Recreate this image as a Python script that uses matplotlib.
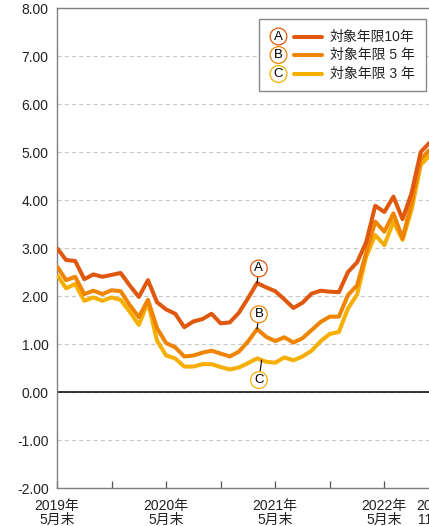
import matplotlib
matplotlib.use('Agg')
import matplotlib.pyplot as plt
from matplotlib.lines import Line2D
from matplotlib.patches import Rectangle

plt.rcParams['font.family'] = ['Liberation Sans', 'Noto Sans CJK JP']
plt.rcParams['lines.scale_dashes'] = False

# ---- data (monthly, index 0 = 2019年5月末) ----
months = list(range(42))
series_A = [3.00, 2.75, 2.73, 2.35, 2.45, 2.40, 2.44, 2.48, 2.22, 1.98,
            2.33, 1.87, 1.72, 1.63, 1.35, 1.47, 1.52, 1.63, 1.43, 1.45,
            1.65, 1.95, 2.27, 2.18, 2.10, 1.93, 1.75, 1.86, 2.05, 2.11,
            2.09, 2.08, 2.50, 2.70, 3.12, 3.88, 3.75, 4.07, 3.60, 4.15,
            5.00, 5.20]
series_B = [2.62, 2.33, 2.40, 2.04, 2.11, 2.04, 2.12, 2.10, 1.81, 1.56,
            1.92, 1.33, 1.02, 0.93, 0.74, 0.76, 0.82, 0.86, 0.80, 0.74,
            0.84, 1.05, 1.31, 1.15, 1.06, 1.14, 1.03, 1.12, 1.29, 1.46,
            1.57, 1.57, 2.02, 2.22, 2.90, 3.55, 3.34, 3.72, 3.20, 3.95,
            4.85, 5.05]
series_C = [2.44, 2.16, 2.25, 1.90, 1.97, 1.90, 1.97, 1.92, 1.67, 1.40,
            1.87, 1.07, 0.76, 0.70, 0.53, 0.53, 0.58, 0.58, 0.52, 0.47,
            0.51, 0.60, 0.70, 0.63, 0.61, 0.72, 0.66, 0.74, 0.86, 1.06,
            1.21, 1.25, 1.74, 2.03, 2.82, 3.27, 3.06, 3.55, 3.17, 3.80,
            4.73, 4.93]
labels = ['対象年限10年', '対象年限 5 年', '対象年限 3 年']
letters = ['A', 'B', 'C']
xtick_pos = [0, 6, 12, 18, 24, 30, 36, 42]
xtick_labels = ['2019年\n5月末', '', '2020年\n5月末', '', '2021年\n5月末', '',
                '2022年\n5月末', '2022年\n11月末']
yticks = [-2, -1, 0, 1, 2, 3, 4, 5, 6, 7, 8]

colors = ['#E0580E', '#EE8400', '#F6AE00']

W, H = 429, 526
fig = plt.figure(figsize=(W / 100, H / 100), dpi=100)
ax = fig.add_axes([57 / W, 38 / H, 391 / W, 480 / H])

ax.set_xlim(0, 43)
ax.set_ylim(-2, 8)

ax.set_yticks(yticks)
ax.set_yticklabels([f'{v:.2f}' for v in yticks])
ax.grid(axis='y', color='#c8c8c8', lw=0.8, ls=(0, (3.0, 2.2)))
ax.axhline(0, color='black', lw=1.1, zorder=2)

ax.set_xticks(xtick_pos)
ax.set_xticklabels(xtick_labels)
for lbl in ax.get_xticklabels():
    lbl.set_linespacing(1.0)
ax.tick_params(axis='x', direction='in', length=5, width=0.9, color='#555555',
               pad=8, labelsize=10, labelcolor='#222222')
ax.tick_params(axis='y', length=0, pad=6, labelsize=10, labelcolor='#222222')

for side in ['left', 'top', 'bottom']:
    ax.spines[side].set_color('#808080')
    ax.spines[side].set_linewidth(1.0)
ax.spines['right'].set_visible(False)

all_series = [series_A, series_B, series_C]
for i in [2, 1, 0]:
    ax.plot(months, all_series[i], color=colors[i], lw=2.9, zorder=3 + (2 - i),
            solid_joinstyle='round', solid_capstyle='butt')

circ = dict(boxstyle='circle,pad=0.18', fc='white', lw=0.9)

# annotations
peak = 22
ann = [
    (series_A, peak, (1.3, 10.5)),
    (series_B, peak, (1.3, 10.7)),
]
for i, (s, k, off) in enumerate(ann):
    ax.annotate(letters[i], xy=(k, s[k]), xytext=off, textcoords='offset points',
                ha='center', va='center', fontsize=9.5, color='black',
                bbox=dict(circ, ec=colors[i]),
                arrowprops=dict(arrowstyle='-', color='black', lw=0.8,
                                shrinkA=0, shrinkB=0), zorder=10)
cx = peak + 0.5
cy = (series_C[peak] + series_C[peak + 1]) / 2
ax.annotate(letters[2], xy=(cx, cy), xytext=(-1.9, -14.4), textcoords='offset points',
            ha='center', va='center', fontsize=9.5, color='black',
            bbox=dict(circ, ec=colors[2]),
            arrowprops=dict(arrowstyle='-', color='black', lw=0.8,
                            shrinkA=0, shrinkB=0), zorder=10)

# legend (figure pixel coordinates)
def fx(x):
    return x / W

def fy(y):
    return 1 - y / H

fig.add_artist(Rectangle((fx(259), fy(90.7)), (426 - 259) / W, (90.7 - 19.3) / H,
                         transform=fig.transFigure, fc='white', ec='#888888',
                         lw=1.0, zorder=5))
rows = [36.5, 55, 74]
for i, yy in enumerate(rows):
    fig.add_artist(Line2D([fx(294), fx(322)], [fy(yy), fy(yy)], transform=fig.transFigure,
                          color=colors[i], lw=2.9, solid_capstyle='round', zorder=6))
    fig.text(fx(278.5), fy(yy), letters[i], ha='center', va='center', fontsize=9.5,
             color='black', zorder=7, bbox=dict(circ, ec=colors[i]))
    fig.text(fx(330), fy(yy), labels[i], ha='left', va='center', fontsize=10,
             color='#222222', zorder=7)

fig.savefig('out.png', dpi=100)
